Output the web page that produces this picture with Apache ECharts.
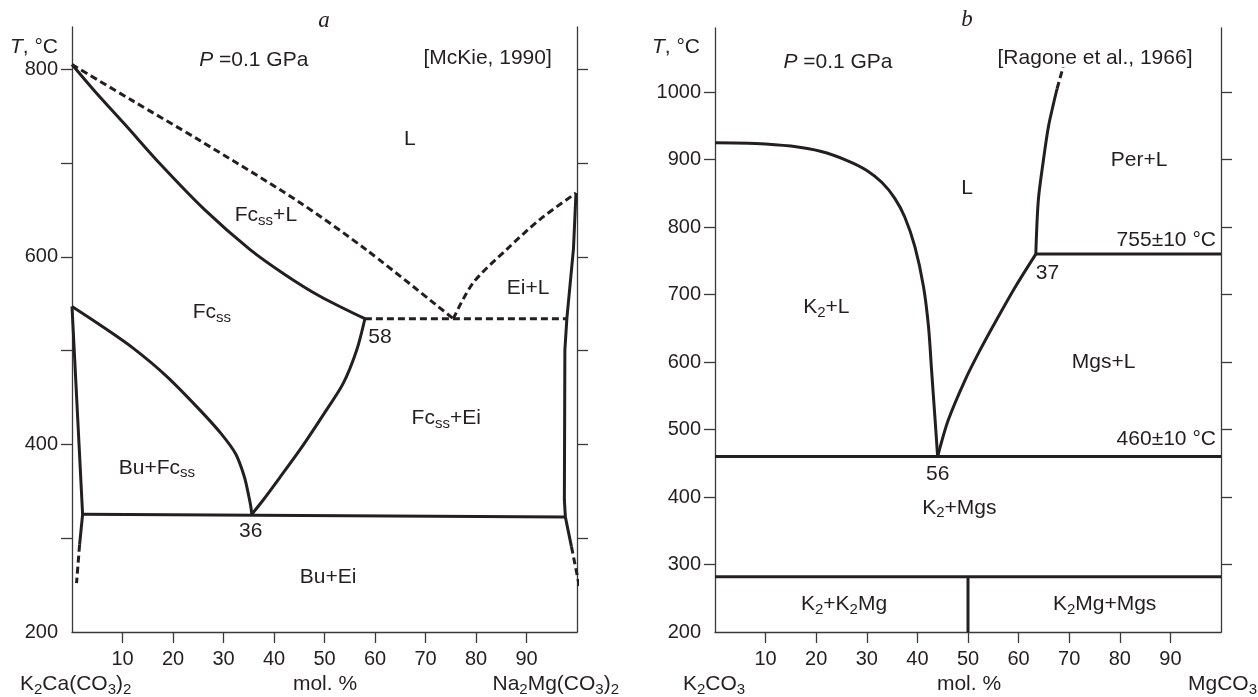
<!DOCTYPE html>
<html><head><meta charset="utf-8">
<script src="https://cdn.jsdelivr.net/npm/echarts@6/dist/echarts.min.js"></script>
<style>html,body{margin:0;padding:0;background:#fff}#c{width:1258px;height:697px}</style>
</head><body><div id="c"></div>
<script>
// ---------------- tick values ----------------
const xTicks = [10, 20, 30, 40, 50, 60, 70, 80, 90];
const aYLabels = [200, 400, 600, 800];
const aYTicks = [300, 400, 500, 600, 700, 800];
const bYLabels = [200, 300, 400, 500, 600, 700, 800, 900, 1000];
const bYTicks = [300, 400, 500, 600, 700, 800, 900, 1000];

// ---------------- panel a: K2Ca(CO3)2 – Na2Mg(CO3)2 [McKie, 1990] ----------------
const aFcLiquidus      = [[0,805],[4.6,776],[10.5,741],[17.8,697],[26.3,650],[35.2,608],[42.2,581],[49.1,558],[58,534]];
const aFcLiquidusUpper = [[0,805],[11.8,767],[25,725],[44.8,659],[58.4,607],[75.5,534]];
const aEiLiquidus      = [[75.5,534],[79.4,572],[86.1,608],[92.7,640],[99.8,668]];
const aPeritectic      = [[58,534],[98,534]];
const aFcSolidus       = [[58,534],[56.4,501],[53.7,465],[50.3,436],[45.5,397],[41.2,365],[37.9,341],[35.6,325.5]];
const aBuSolvus        = [[0,547],[5.5,527.5],[12.1,502.6],[18.8,472.3],[25.3,436.8],[29.6,411],[32.4,390],[34.1,366],[35,345],[35.4,334],[35.6,325.5]];
const aBuLeft          = [[0,547],[2.1,325.5],[1.5,293]];
const aBuLeftDashed    = [[1.5,293],[0.9,252]];
const aEutectic        = [[2.1,325.5],[97.7,322.5]];
const aEiRight         = [[99.8,668],[99.3,608.5],[98,534.6],[97.6,500.8],[97.5,340.8],[97.7,322.5],[98.9,291]];
const aEiRightDashed   = [[98.9,291],[100.5,248]];

// ---------------- panel b: K2CO3 – MgCO3 [Ragone et al., 1966] ----------------
const bK2Liquidus        = [[0,925],[8,924],[15,920],[21,912],[26,899],[30,884],[33,866],[35.5,843],[37.5,815],[39.5,771],[41.2,712],[42.2,652],[42.8,588],[43.5,514],[44,460]];
const bMgsLiquidus       = [[44,460],[46.1,514],[49.4,573],[52.4,618],[55.6,662],[59.4,712],[63.4,760]];
const bPerLiquidus       = [[63.4,760],[63.9,840],[64.9,899],[65.9,949],[66.9,983],[67.6,1005]];
const bPerLiquidusDashed = [[67.6,1005],[68.8,1037]];
const bPeritectic        = [[63.4,760],[100,760]];
const bEutectic          = [[0,460],[100,460]];
const bSubsolidus        = [[0,282],[100,282]];
const bK2MgLine          = [[50,200],[50,282]];

// ---------------- field annotations (data coordinates) ----------------
const aNotes = [
  ['L', 66.9, 725], ['Fc_{ss}+L', 38.4, 644], ['Fc_{ss}', 27.7, 541], ['58', 61, 514],
  ['Ei+L', 90.3, 566], ['Fc_{ss}+Ei', 74.1, 428], ['Bu+Fc_{ss}', 16.8, 375], ['36', 35.4, 307],
  ['Bu+Ei', 50.7, 258], ['*P* =0.1 GPa', 36, 810], ['[McKie, 1990]', 82.3, 812]
];
const bNotes = [
  ['L', 49.8, 857], ['Per+L', 83.8, 899], ['755±10 °C', 99, 781, 'right'], ['37', 65.7, 732],
  ['K_{2}+L', 22, 681], ['Mgs+L', 76.8, 600], ['460±10 °C', 99, 486, 'right'], ['56', 44, 434],
  ['K_{2}+Mgs', 48.3, 384], ['K_{2}+K_{2}Mg', 25.5, 241], ['K_{2}Mg+Mgs', 77, 241],
  ['*P* =0.1 GPa', 24.3, 1044], ['[Ragone et al., 1966]', 75.1, 1050]
];

// ---------------- styling ----------------
const FONT = '"Liberation Sans", Arial, sans-serif';
const TX = '#231f20', LC = '#231f20', AX = '#3a3a3a';
const RICH = {
  n: {fontFamily: FONT, fontSize: 21, color: TX, fill: TX, lineHeight: 24, textBorderWidth: 0},
  i: {fontFamily: FONT, fontSize: 21, fontStyle: 'italic', color: TX, fill: TX, lineHeight: 24, textBorderWidth: 0},
  s: {fontFamily: FONT, fontSize: 15, color: TX, fill: TX, lineHeight: 15, padding: [11, 0, 0, 0], textBorderWidth: 0}
};
function rt(s) {
  let out = '', buf = '', i = 0;
  const flush = () => { if (buf) { out += '{n|' + buf + '}'; buf = ''; } };
  while (i < s.length) {
    if (s[i] === '_' && s[i + 1] === '{') { flush(); const j = s.indexOf('}', i); out += '{s|' + s.slice(i + 2, j) + '}'; i = j + 1; }
    else if (s[i] === '*') { flush(); const j = s.indexOf('*', i + 1); out += '{i|' + s.slice(i + 1, j) + '}'; i = j + 1; }
    else { buf += s[i]; i++; }
  }
  flush();
  return out;
}

function xAxisCfg(gi) {
  return {
    type: 'value', gridIndex: gi, min: 0, max: 100, interval: 10,
    axisLine: {show: true, onZero: false, lineStyle: {color: AX, width: 1.3}},
    axisTick: {show: true, inside: false, length: 11, customValues: xTicks, lineStyle: {color: AX, width: 1.3}},
    axisLabel: {show: true, customValues: xTicks, margin: 17, fontSize: 20, color: TX, fontFamily: FONT},
    splitLine: {show: false}
  };
}
function yAxisCfg(gi, pos, max, ticks, labels) {
  return {
    type: 'value', gridIndex: gi, position: pos, min: 200, max: max, interval: 100,
    axisLine: {show: true, onZero: false, lineStyle: {color: AX, width: 1.3}},
    axisTick: {show: true, inside: false, length: 11, customValues: ticks, lineStyle: {color: AX, width: 1.3}},
    axisLabel: labels ? {show: true, customValues: labels, margin: 14, fontSize: 20, color: TX, fontFamily: FONT,
                         formatter: v => String(v)} : {show: false},
    splitLine: {show: false}
  };
}
function line(data, gi, dashed, smooth) {
  return {
    type: 'line', xAxisIndex: gi, yAxisIndex: gi * 2, data: data, symbol: 'none',
    smooth: smooth || false, clip: false, silent: true, animation: false,
    lineStyle: {color: LC, width: 3, type: dashed ? [7, 4] : 'solid', cap: 'butt', join: 'round'}
  };
}
function notes(arr, gi) {
  return {
    type: 'scatter', xAxisIndex: gi, yAxisIndex: gi * 2, silent: true, animation: false, clip: false,
    symbol: 'circle', symbolSize: 0, itemStyle: {color: TX, opacity: 1},
    data: arr.map(d => ({value: [d[1], d[2]], name: rt(d[0]), label: {align: d[3] || 'center'}})),
    label: {show: true, position: 'inside', verticalAlign: 'middle', color: TX, opacity: 1,
            textBorderWidth: 0, textBorderColor: 'transparent', formatter: p => p.name, rich: RICH},
    emphasis: {disabled: true}
  };
}
function gtext(x, y, str, align, font) {
  return {type: 'text', x: x, y: y, silent: true, z: 10,
    style: {text: font ? str : rt(str), rich: RICH, align: align, verticalAlign: 'middle', fill: TX,
            font: font || ('21px ' + FONT)}};
}

const option = {
  animation: false,
  backgroundColor: '#fff',
  grid: [
    {left: 72, top: 27, width: 505, height: 605},
    {left: 715, top: 28, width: 506, height: 604}
  ],
  xAxis: [xAxisCfg(0), xAxisCfg(1)],
  yAxis: [
    yAxisCfg(0, 'left', 845, aYTicks, aYLabels),
    yAxisCfg(0, 'right', 845, aYTicks, null),
    yAxisCfg(1, 'left', 1095, bYTicks, bYLabels),
    yAxisCfg(1, 'right', 1095, bYTicks, null)
  ],
  series: [
    line(aFcLiquidus, 0, false, 0.3),
    line(aFcLiquidusUpper, 0, true, 0.3),
    line(aEiLiquidus, 0, true, 0.3),
    line(aPeritectic, 0, true),
    line(aFcSolidus, 0, false, 0.3),
    line(aBuSolvus, 0, false, 0.3),
    line(aBuLeft, 0, false),
    line(aBuLeftDashed, 0, true),
    line(aEutectic, 0, false),
    line(aEiRight, 0, false),
    line(aEiRightDashed, 0, true),
    line(bK2Liquidus, 1, false, 0.3),
    line(bMgsLiquidus, 1, false, 0.3),
    line(bPerLiquidus, 1, false, 0.3),
    line(bPerLiquidusDashed, 1, true),
    line(bPeritectic, 1, false),
    line(bEutectic, 1, false),
    line(bSubsolidus, 1, false),
    line(bK2MgLine, 1, false),
    notes(aNotes, 0),
    notes(bNotes, 1)
  ],
  graphic: [
    gtext(324, 21, 'a', 'center', 'italic 23px "Liberation Serif", serif'),
    gtext(967, 20, 'b', 'center', 'italic 23px "Liberation Serif", serif'),
    gtext(58, 47, '*T*, °C', 'right'),
    gtext(700, 47, '*T*, °C', 'right'),
    gtext(20, 684, 'K_{2}Ca(CO_{3})_{2}', 'left'),
    gtext(325, 684, 'mol. %', 'center'),
    gtext(619, 684, 'Na_{2}Mg(CO_{3})_{2}', 'right'),
    gtext(683, 684, 'K_{2}CO_{3}', 'left'),
    gtext(969, 684, 'mol. %', 'center'),
    gtext(1257, 684, 'MgCO_{3}', 'right')
  ]
};
const chart = echarts.init(document.getElementById('c'), null, {renderer: 'canvas'});
chart.setOption(option);
</script>
</body></html>
